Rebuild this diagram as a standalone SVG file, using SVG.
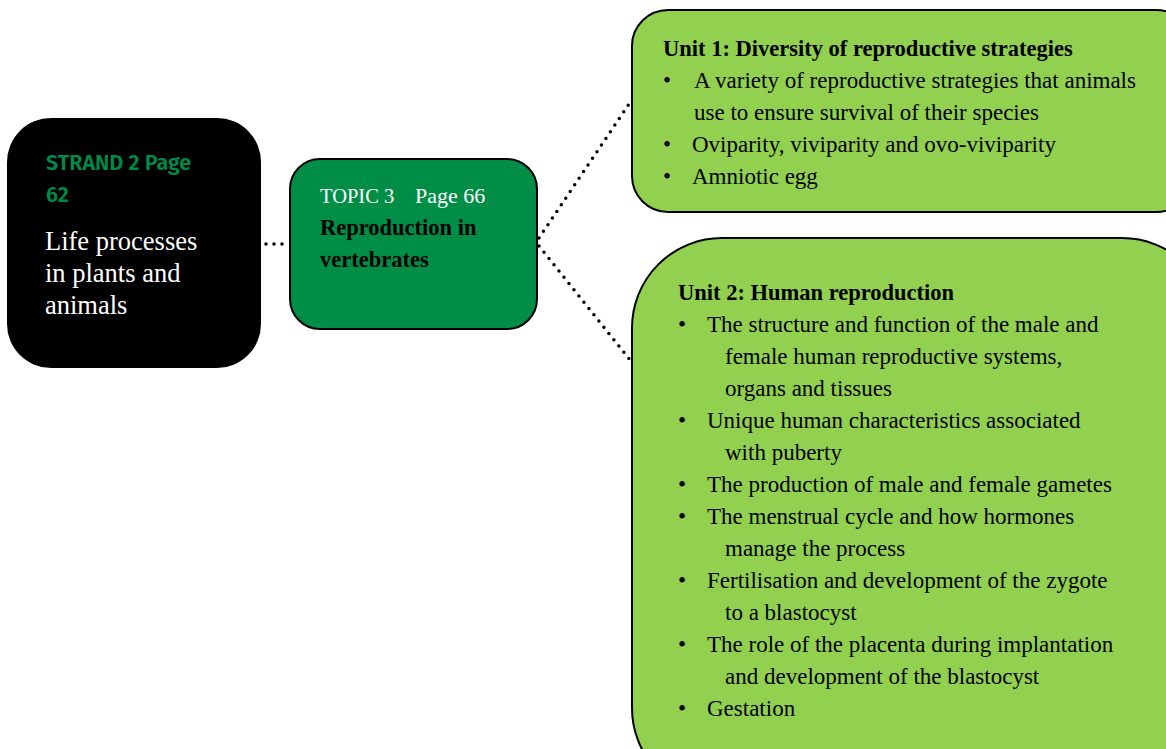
<svg xmlns="http://www.w3.org/2000/svg" width="1166" height="749" viewBox="0 0 1166 749">
<style>
.ser{font-family:"Liberation Serif","DejaVu Serif",serif;font-size:23px;fill:#000}
.b{font-weight:bold;font-size:22.5px}
.dot{fill:none;stroke:#000;stroke-width:3.5;stroke-linecap:round;stroke-dasharray:0 8}
.box{stroke:#000;stroke-width:2}
.san{font-family:"Fira Sans","Open Sans","Noto Sans",sans-serif;font-weight:600;font-size:21.5px;fill:#008A48}
.wt{fill:#fff;font-size:26.5px}
</style>
<rect width="1166" height="749" fill="#fff"/>
<g id="connectors">
<line class="dot" x1="266" y1="244" x2="288" y2="244"/>
<line class="dot" x1="539" y1="238" x2="631" y2="101"/>
<line class="dot" x1="539" y1="246" x2="630" y2="360"/>
</g>
<g id="strand">
<rect x="7" y="118" width="254" height="250" rx="44" fill="#000"/>
<text class="san" x="46" y="170">STRAND 2 Page</text>
<text class="san" x="46" y="202">62</text>
<text class="ser wt" x="45" y="250">Life processes</text>
<text class="ser wt" x="45" y="282">in plants and</text>
<text class="ser wt" x="45" y="314">animals</text>
</g>
<g id="topic">
<rect class="box" x="290" y="159" width="247" height="170" rx="30" fill="#008E47"/>
<text class="ser" x="320" y="203" style="fill:#fff;font-size:20.5px">TOPIC 3<tspan x="415" style="font-size:22px">Page 66</tspan></text>
<text class="ser b" x="320" y="235">Reproduction in</text>
<text class="ser b" x="320" y="267">vertebrates</text>
</g>
<g id="unit1">
<rect class="box" x="632" y="10" width="560" height="202" rx="36" fill="#92D050"/>
<text class="ser b" x="663" y="56">Unit 1: Diversity of reproductive strategies</text>
<text class="ser" x="663" y="88">•<tspan x="694">A variety of reproductive strategies that animals</tspan></text>
<text class="ser" x="694" y="120">use to ensure survival of their species</text>
<text class="ser" x="663" y="152">•<tspan x="692">Oviparity, viviparity and ovo-viviparity</tspan></text>
<text class="ser" x="663" y="184">•<tspan x="692">Amniotic egg</tspan></text>
</g>
<g id="unit2">
<rect class="box" x="632" y="238" width="580" height="560" rx="90" fill="#92D050"/>
<text class="ser b" x="678" y="300">Unit 2: Human reproduction</text>
<text class="ser" x="678" y="332">•<tspan x="707">The structure and function of the male and</tspan></text>
<text class="ser" x="725" y="364">female human reproductive systems,</text>
<text class="ser" x="725" y="396">organs and tissues</text>
<text class="ser" x="678" y="428">•<tspan x="707">Unique human characteristics associated</tspan></text>
<text class="ser" x="725" y="460">with puberty</text>
<text class="ser" x="678" y="492">•<tspan x="707">The production of male and female gametes</tspan></text>
<text class="ser" x="678" y="524">•<tspan x="707">The menstrual cycle and how hormones</tspan></text>
<text class="ser" x="725" y="556">manage the process</text>
<text class="ser" x="678" y="588">•<tspan x="707">Fertilisation and development of the zygote</tspan></text>
<text class="ser" x="725" y="620">to a blastocyst</text>
<text class="ser" x="678" y="652">•<tspan x="707">The role of the placenta during implantation</tspan></text>
<text class="ser" x="725" y="684">and development of the blastocyst</text>
<text class="ser" x="678" y="716">•<tspan x="707">Gestation</tspan></text>
</g>
</svg>
